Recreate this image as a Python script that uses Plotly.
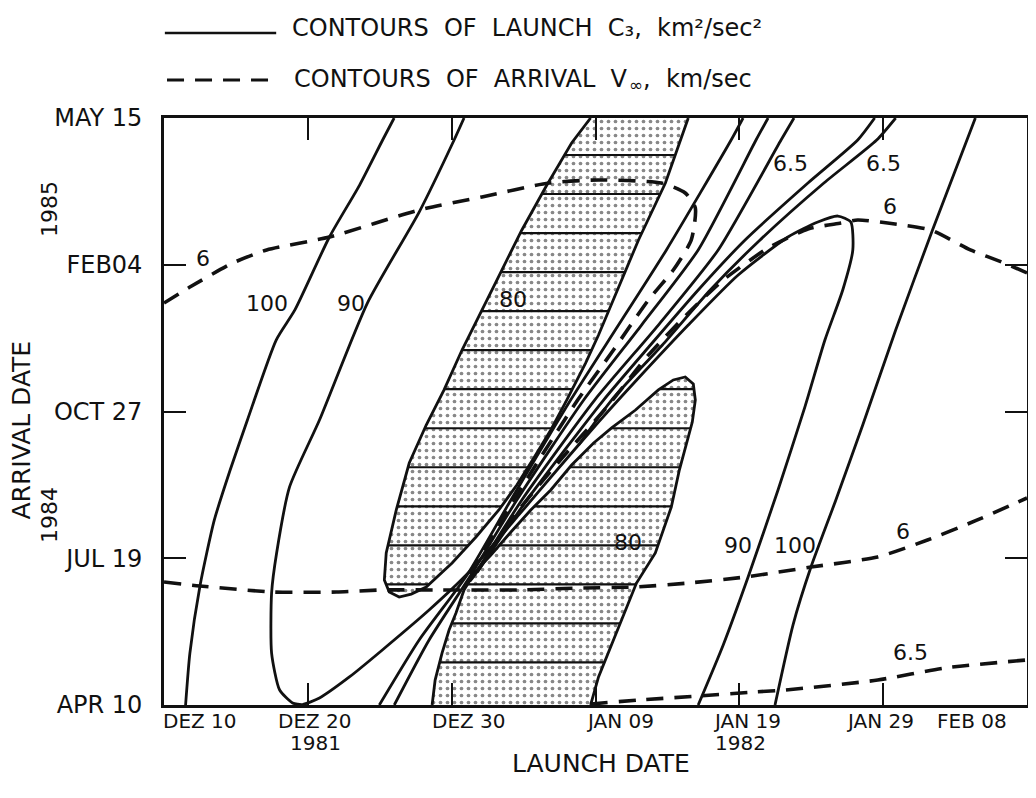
import plotly.graph_objects as go

# ---------------- axes (launch: days after DEZ 10 1981, arrival: days after APR 10 1984)
launch_ticks = [0, 10, 20, 30, 40, 50, 60]
launch_labels = ["DEZ 10", "DEZ 20", "DEZ 30", "JAN 09", "JAN 19", "JAN 29", "FEB 08"]
launch_label_pos = [2.5, 10.5, 21.2, 31.7, 40.5, 49.8, 56.2]
year_labels = ["1981", "1982"]
year_label_pos = [10.5, 40.1]
arrival_ticks = [0, 100, 200, 300, 400]
arrival_labels = ["APR 10", "JUL 19", "OCT 27", "FEB04", "MAY 15"]

# ---------------- launch C3 contours (solid)
c3_100_left_x = [1.5, 1.8, 2.5, 3.5, 4.6, 5.8, 7.8, 9.1, 11.5, 13.6, 15.2, 16.0]
c3_100_left_y = [0, 35.4, 81.1, 126.1, 160.1, 194.2, 248.7, 269.2, 318.9, 354.3, 385.0, 400]

c3_90_x = [20.86, 20.17, 17.74, 14.14, 10.81, 8.73, 7.83, 7.48, 7.48, 8.04, 8.94, 9.63, 10.81,
           12.89, 15.18, 18.43, 21.21, 24.67, 27.44, 30.21, 32.99, 36.45, 39.92, 43.38, 45.46,
           46.85, 47.75, 47.89, 47.19, 45.95, 44.56, 42.69, 40.61, 38.88, 37.14]
c3_90_y = [400, 385.0, 335.9, 273.9, 194.2, 148.6, 103.6, 76.3, 35.4, 10.2, 1.4, 0.3, 4.8,
           19.1, 37.5, 64.7, 90.6, 129.5, 161.5, 192.8, 222.8, 258.9, 293.0, 318.9, 329.1,
           333.2, 329.1, 310.1, 282.8, 248.7, 203.1, 146.5, 87.2, 40.9, 0]

c3_100_right_x = [56.41, 53.43, 50.87, 48.58, 46.71, 44.98, 43.73, 42.48]
c3_100_right_y = [400, 323.7, 255.5, 190.8, 139.7, 94.0, 54.5, 0]

bundle_1_x = [40.26, 39.43, 34.93, 31.60, 28.27, 24.12, 21.07, 17.74, 14.97]
bundle_1_y = [400, 385.0, 310.1, 258.9, 207.8, 139.7, 88.6, 44.3, 0]

bundle_2_x = [42.00, 41.16, 37.14, 33.20, 29.18, 24.53, 21.34, 18.43, 16.01]
bundle_2_y = [400, 385.0, 310.1, 258.9, 207.8, 139.7, 88.6, 44.3, 0]

bundle_3_x = [43.80, 42.90, 38.53, 34.37, 29.94, 24.88, 21.62, 21.28, 21.76, 25.23, 30.56,
              33.82, 37.14, 40.40, 44.77, 48.23, 49.41]
bundle_3_y = [400, 385.0, 310.1, 258.9, 207.8, 139.7, 89.3, 84.5, 90.6, 139.7, 207.8,
              245.3, 282.8, 316.9, 355.7, 385.0, 400]

bundle_4_x = [50.87, 49.55, 45.88, 41.44, 37.98, 34.65, 31.12, 28.83]
bundle_4_y = [400, 385.0, 355.7, 316.9, 282.8, 245.3, 207.8, 177.2]

# ---------------- C3 = 80 regions (shaded)
c3_80_upper_x = [29.66, 28.34, 26.54, 24.88, 23.49, 22.11, 20.72, 19.47, 18.23, 17.05, 16.15,
                 15.45, 15.32, 15.66, 16.35, 17.19, 18.23, 20.03, 21.69, 23.28, 24.53, 25.71,
                 26.89, 28.00, 29.31, 30.21, 31.39, 32.99, 34.86, 36.45]
c3_80_upper_y = [400, 383.0, 353.0, 323.7, 296.4, 269.2, 241.9, 214.7, 190.8, 164.9, 132.9,
                 103.6, 85.2, 77.0, 73.6, 75.6, 80.4, 96.8, 114.5, 132.9, 149.9, 168.3,
                 187.4, 207.8, 233.0, 252.1, 279.4, 316.9, 355.7, 400]

c3_80_lower_x = [18.64, 18.85, 19.33, 19.82, 20.30, 20.86, 21.62, 22.73, 24.12, 25.50, 26.89,
                 28.34, 29.87, 31.12, 32.78, 34.37, 35.41, 36.24, 36.80, 36.94, 36.73, 36.31,
                 35.83, 35.27, 34.16, 32.85, 31.60, 30.21, 29.66]
c3_80_lower_y = [0, 17.0, 35.4, 51.1, 62.7, 78.4, 90.6, 102.2, 117.9, 132.9, 146.5,
                 163.5, 178.5, 188.8, 201.0, 214.7, 221.5, 223.5, 218.7, 207.8, 192.8, 177.2,
                 160.1, 134.9, 103.6, 83.1, 53.2, 19.1, 0]

hatch_levels = [374.8, 348.2, 321.6, 295.0, 268.4, 241.8, 215.2, 188.6, 162.0, 135.4,
                108.8, 82.2, 55.6, 29.0]

# ---------------- arrival V-infinity contours (dashed)
vinf_6_upper_x = [0, 1.80, 4.78, 7.14, 11.50, 17.74, 22.11, 26.75, 30.21, 34.58, 36.24, 36.94,
                  36.66, 35.41, 33.68, 31.25, 28.76, 24.32, 21.21]
vinf_6_upper_y = [273.9, 284.8, 301.2, 310.1, 318.9, 337.3, 346.2, 355.7, 357.8, 355.7, 348.9,
                  338.7, 316.9, 296.4, 276.0, 241.9, 207.8, 139.7, 87.9]

vinf_6_right_x = [60.0, 58.42, 56.06, 53.29, 50.31, 48.23, 47.06, 44.77, 42.00, 38.88, 36.45,
                  33.68, 30.91, 27.44, 24.67, 21.76]
vinf_6_right_y = [294.4, 301.2, 310.1, 323.7, 328.4, 330.5, 328.4, 324.4, 311.4, 289.6, 267.1,
                  238.5, 204.4, 165.6, 132.9, 90.6]

vinf_6_lower_x = [0, 2.49, 7.55, 11.99, 15.18, 19.33, 24.67, 28.83, 32.78, 36.45, 40.40, 44.98,
                  49.62, 53.08, 56.55, 60.0]
vinf_6_lower_y = [83.8, 81.1, 77.0, 77.0, 78.4, 78.4, 78.4, 79.7, 80.4, 83.1, 87.2, 94.0,
                  100.9, 112.4, 126.1, 141.1]

vinf_65_x = [29.66, 32.99, 37.14, 41.10, 43.17, 49.62, 54.26, 60.0]
vinf_65_y = [0.7, 3.4, 6.1, 8.9, 10.2, 17.0, 25.2, 30.7]

# ---------------- contour labels
label_text = ["100", "90", "80", "6", "6.5", "6.5", "6", "80", "90", "100", "6", "6.5"]
label_x = [7.14, 13.03, 24.26, 2.70, 43.59, 50.03, 50.45, 32.29, 39.92, 43.87, 51.35, 51.91]
label_y = [273.9, 273.9, 276.0, 304.6, 369.3, 369.3, 339.4, 110.4, 109.0, 109.0, 117.9, 36.1]

INK = "#111111"
FONT = "DejaVu Sans"


def hatch_segments(px, py, levels):
    xs, ys = [], []
    n = len(px)
    for lv in levels:
        cuts = []
        for i in range(n):
            x1, y1 = px[i], py[i]
            x2, y2 = px[(i + 1) % n], py[(i + 1) % n]
            if (y1 - lv) * (y2 - lv) < 0:
                t = (lv - y1) / (y2 - y1)
                cuts.append(x1 + t * (x2 - x1))
        cuts.sort()
        for a, b in zip(cuts[0::2], cuts[1::2]):
            xs += [a, b, None]
            ys += [lv, lv, None]
    return xs, ys


fig = go.Figure()

# shaded regions
for rx, ry in [(c3_80_upper_x, c3_80_upper_y), (c3_80_lower_x, c3_80_lower_y)]:
    fig.add_trace(go.Scatter(
        x=rx, y=ry, mode="lines", fill="toself", fillcolor="white",
        fillpattern=dict(shape=".", size=7, solidity=0.22, fgcolor=INK, bgcolor="white"),
        line=dict(color=INK, width=2.8), hoverinfo="skip", showlegend=False))
    hx, hy = hatch_segments(rx, ry, hatch_levels)
    fig.add_trace(go.Scatter(x=hx, y=hy, mode="lines", line=dict(color=INK, width=2.2),
                             hoverinfo="skip", showlegend=False))

# solid C3 contours
for cx, cy in [(c3_100_left_x, c3_100_left_y), (c3_90_x, c3_90_y),
               (c3_100_right_x, c3_100_right_y), (bundle_1_x, bundle_1_y),
               (bundle_2_x, bundle_2_y), (bundle_3_x, bundle_3_y),
               (bundle_4_x, bundle_4_y)]:
    fig.add_trace(go.Scatter(x=cx, y=cy, mode="lines",
                             line=dict(color=INK, width=2.8, shape="spline", smoothing=0.6),
                             hoverinfo="skip", showlegend=False))

# dashed V-infinity contours
for vx, vy in [(vinf_6_upper_x, vinf_6_upper_y), (vinf_6_right_x, vinf_6_right_y),
               (vinf_6_lower_x, vinf_6_lower_y), (vinf_65_x, vinf_65_y)]:
    fig.add_trace(go.Scatter(x=vx, y=vy, mode="lines",
                             line=dict(color=INK, width=3.6, dash="17px,11px",
                                       shape="spline", smoothing=0.6),
                             hoverinfo="skip", showlegend=False))

annotations = []
for t, x, y in zip(label_text, label_x, label_y):
    annotations.append(dict(x=x, y=y, xref="x", yref="y", text=t, showarrow=False,
                            font=dict(size=22, color=INK, family=FONT)))

for t, x in zip(launch_labels, launch_label_pos):
    annotations.append(dict(x=x, y=0, xref="x", yref="paper", yshift=-16, text=t,
                            showarrow=False, yanchor="middle",
                            font=dict(size=20, color=INK, family=FONT)))
for t, x in zip(year_labels, year_label_pos):
    annotations.append(dict(x=x, y=0, xref="x", yref="paper", yshift=-38, text=t,
                            showarrow=False, yanchor="middle",
                            font=dict(size=20, color=INK, family=FONT)))
annotations.append(dict(x=30.35, y=0, xref="x", yref="paper", yshift=-58, text="LAUNCH DATE",
                        showarrow=False, yanchor="middle",
                        font=dict(size=25, color=INK, family=FONT)))

annotations.append(dict(x=0, y=187, xref="paper", yref="y", xshift=-142, text="ARRIVAL DATE",
                        textangle=-90, showarrow=False, xanchor="center",
                        font=dict(size=25, color=INK, family=FONT)))
annotations.append(dict(x=0, y=129.5, xref="paper", yref="y", xshift=-114, text="1984",
                        textangle=-90, showarrow=False, xanchor="center",
                        font=dict(size=22, color=INK, family=FONT)))
annotations.append(dict(x=0, y=338, xref="paper", yref="y", xshift=-114, text="1985",
                        textangle=-90, showarrow=False, xanchor="center",
                        font=dict(size=22, color=INK, family=FONT)))

# legend text
annotations.append(dict(x=0.1455, y=1.1533, xref="paper", yref="paper", xanchor="left",
                        yanchor="middle", showarrow=False,
                        text="CONTOURS  OF  LAUNCH  C₃,  km²/sec²",
                        font=dict(size=24, color=INK, family=FONT)))
annotations.append(dict(x=0.5404, y=1.0664, xref="paper", yref="paper", xanchor="right",
                        yanchor="middle", showarrow=False,
                        text="CONTOURS  OF  ARRIVAL  V",
                        font=dict(size=24, color=INK, family=FONT)))
annotations.append(dict(x=0.5370, y=1.0664, xref="paper", yref="paper", xanchor="left",
                        yanchor="middle", yshift=-6, showarrow=False, text="∞",
                        font=dict(size=17, color=INK, family=FONT)))
annotations.append(dict(x=0.5531, y=1.0664, xref="paper", yref="paper", xanchor="left",
                        yanchor="middle", showarrow=False, text=",  km/sec",
                        font=dict(size=24, color=INK, family=FONT)))

shapes = [
    dict(type="line", xref="paper", yref="paper", x0=0.001, x1=0.130, y0=1.1448, y1=1.1448,
         line=dict(color=INK, width=2.4)),
    dict(type="line", xref="paper", yref="paper", x0=0.0035, x1=0.1305, y0=1.0647, y1=1.0647,
         line=dict(color=INK, width=2.8, dash="17px,11px")),
]

# the page body has an 8px default margin, so the figure is 8px smaller and the
# plot margins are reduced by 8px on the left and top
fig.update_layout(
    width=1028, height=790,
    margin=dict(l=156, r=6, t=110, b=93),
    paper_bgcolor="white", plot_bgcolor="white",
    annotations=annotations, shapes=shapes,
    font=dict(family=FONT, color=INK),
    xaxis=dict(range=[0, 60], tickvals=launch_ticks,
               showticklabels=False, ticks="inside", ticklen=22, tickwidth=2, tickcolor=INK,
               showline=True, linewidth=2.6, linecolor=INK, mirror="ticks",
               showgrid=False, zeroline=False, fixedrange=True),
    yaxis=dict(range=[0, 400], tickvals=arrival_ticks, ticktext=arrival_labels,
               ticks="inside", ticklen=22, tickwidth=2, tickcolor=INK,
               ticklabelstandoff=14,
               tickfont=dict(size=24, color=INK, family=FONT),
               showline=True, linewidth=2.6, linecolor=INK, mirror="ticks",
               showgrid=False, zeroline=False, fixedrange=True),
)

fig.write_html("out.html")
